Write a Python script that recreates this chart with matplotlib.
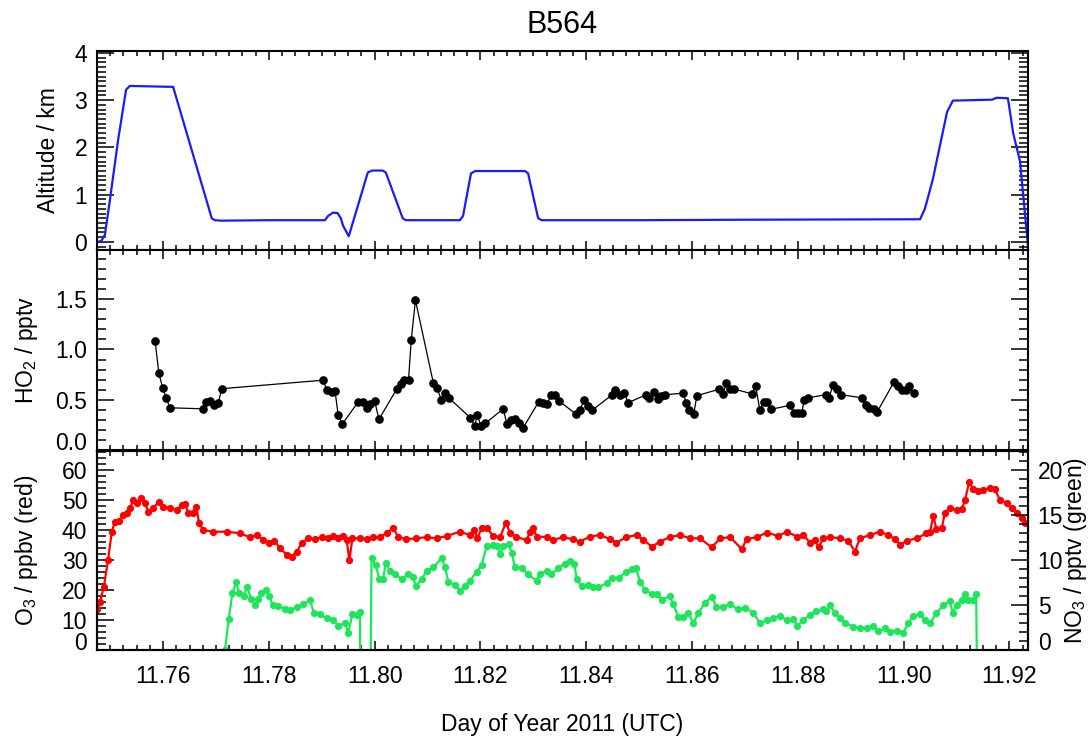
"""Flight B564 time series: altitude, HO2, O3 and NO3."""

import matplotlib
matplotlib.use("Agg")
import matplotlib.pyplot as plt
from matplotlib.ticker import MultipleLocator, FixedLocator

plt.rcParams["font.family"] = ["Liberation Sans", "DejaVu Sans"]
plt.rcParams["mathtext.default"] = "regular"

# ---- data ----
alt_time = [11.7475, 11.7483, 11.7490, 11.7500, 11.7515, 11.7530, 11.7537, 11.7580,
            11.7619, 11.7692, 11.7698, 11.7710, 11.7800, 11.7906, 11.7912, 11.7921,
            11.7930, 11.7936, 11.7940, 11.7951, 11.7987, 11.7995, 11.8015, 11.8021,
            11.8053, 11.8059, 11.8161, 11.8167, 11.8182, 11.8190, 11.8284, 11.8290,
            11.8309, 11.8316, 11.8500, 11.8700, 11.9031, 11.9040, 11.9055, 11.9082,
            11.9093, 11.9167, 11.9176, 11.9197, 11.9207, 11.9220, 11.9235]
alt_km = [0.00, 0.02, 0.15, 0.93, 2.16, 3.22, 3.30, 3.29,
          3.28, 0.50, 0.46, 0.45, 0.46, 0.46, 0.55, 0.62,
          0.61, 0.50, 0.35, 0.12, 1.47, 1.51, 1.51, 1.47,
          0.50, 0.46, 0.46, 0.55, 1.45, 1.50, 1.50, 1.45,
          0.50, 0.46, 0.46, 0.47, 0.48, 0.70, 1.32, 2.75,
          2.99, 3.01, 3.05, 3.04, 2.30, 1.70, -0.10]

ho2_time = [11.7585, 11.7592, 11.7599, 11.7606, 11.7613, 11.7676, 11.7682, 11.7689,
            11.7696, 11.7704, 11.7711, 11.7903, 11.7909, 11.7919, 11.7925, 11.7931,
            11.7939, 11.7969, 11.7978, 11.7986, 11.7992, 11.8000, 11.8008, 11.8042,
            11.8049, 11.8056, 11.8064, 11.8069, 11.8077, 11.8111, 11.8118, 11.8126,
            11.8133, 11.8140, 11.8181, 11.8189, 11.8194, 11.8201, 11.8209, 11.8243,
            11.8250, 11.8258, 11.8265, 11.8272, 11.8280, 11.8310, 11.8319, 11.8326,
            11.8333, 11.8341, 11.8348, 11.8381, 11.8388, 11.8396, 11.8403, 11.8411,
            11.8449, 11.8455, 11.8464, 11.8472, 11.8479, 11.8513, 11.8519, 11.8528,
            11.8535, 11.8541, 11.8548, 11.8583, 11.8589, 11.8595, 11.8603, 11.8609,
            11.8651, 11.8658, 11.8665, 11.8671, 11.8680, 11.8713, 11.8720, 11.8728,
            11.8736, 11.8742, 11.8749, 11.8785, 11.8792, 11.8800, 11.8807, 11.8812,
            11.8819, 11.8853, 11.8859, 11.8866, 11.8874, 11.8881, 11.8921, 11.8928,
            11.8935, 11.8943, 11.8950, 11.8982, 11.8990, 11.8997, 11.9004, 11.9010,
            11.9019]
ho2_pptv = [1.08, 0.765, 0.62, 0.515, 0.42, 0.41, 0.48, 0.49,
            0.45, 0.465, 0.61, 0.695, 0.60, 0.58, 0.59, 0.345,
            0.26, 0.48, 0.48, 0.42, 0.455, 0.485, 0.305, 0.61,
            0.66, 0.70, 0.70, 1.09, 1.49, 0.665, 0.615, 0.50,
            0.57, 0.52, 0.32, 0.24, 0.345, 0.24, 0.265, 0.41,
            0.255, 0.30, 0.305, 0.265, 0.215, 0.48, 0.47, 0.455,
            0.55, 0.55, 0.49, 0.355, 0.40, 0.50, 0.44, 0.395,
            0.55, 0.595, 0.55, 0.565, 0.47, 0.55, 0.515, 0.58,
            0.505, 0.54, 0.55, 0.565, 0.47, 0.40, 0.355, 0.54,
            0.605, 0.555, 0.67, 0.605, 0.605, 0.56, 0.64, 0.40,
            0.48, 0.48, 0.405, 0.445, 0.37, 0.37, 0.365, 0.50,
            0.52, 0.55, 0.515, 0.65, 0.61, 0.55, 0.52, 0.445,
            0.42, 0.405, 0.38, 0.68, 0.64, 0.595, 0.595, 0.64,
            0.565]

o3_time = [11.7475, 11.7481, 11.7488, 11.7496, 11.7503, 11.7509, 11.7517, 11.7525,
           11.7531, 11.7537, 11.7544, 11.7551, 11.7559, 11.7566, 11.7572, 11.7580,
           11.7593, 11.7600, 11.7613, 11.7626, 11.7635, 11.7641, 11.7648, 11.7656,
           11.7663, 11.7668, 11.7676, 11.7695, 11.7720, 11.7745, 11.7764, 11.7777,
           11.7789, 11.7801, 11.7810, 11.7821, 11.7834, 11.7843, 11.7853, 11.7862,
           11.7874, 11.7887, 11.7900, 11.7912, 11.7922, 11.7931, 11.7941, 11.7947,
           11.7952, 11.7958, 11.7972, 11.7985, 11.7997,
           11.8010, 11.8023, 11.8035, 11.8045, 11.8060, 11.8079, 11.8098, 11.8117,
           11.8136, 11.8161, 11.8180, 11.8188, 11.8194, 11.8202, 11.8212, 11.8224,
           11.8237, 11.8248, 11.8256, 11.8268, 11.8287, 11.8294, 11.8300, 11.8306,
           11.8325, 11.8338, 11.8356, 11.8375, 11.8388, 11.8407, 11.8426, 11.8445,
           11.8457, 11.8476, 11.8495, 11.8508, 11.8524, 11.8539, 11.8558, 11.8577,
           11.8596, 11.8615, 11.8637, 11.8653, 11.8672, 11.8694, 11.8703, 11.8722,
           11.8741, 11.8763,
           11.8779, 11.8798, 11.8810, 11.8823, 11.8832, 11.8839, 11.8848, 11.8861,
           11.8880, 11.8895, 11.8908, 11.8917, 11.8936, 11.8955, 11.8971, 11.8984,
           11.8993, 11.9006, 11.9025, 11.9043, 11.9050, 11.9056, 11.9062, 11.9072,
           11.9078, 11.9087, 11.9100, 11.9110, 11.9116, 11.9124, 11.9131, 11.9141,
           11.9150, 11.9163, 11.9172, 11.9182, 11.9195, 11.9204, 11.9214, 11.9223,
           11.9229]
o3_ppbv = [13.6, 16.1, 21.1, 30.0, 39.4, 42.8, 43.1, 45.0,
           45.6, 47.2, 50.0, 49.1, 50.8, 48.9, 46.1, 47.2,
           49.4, 47.8, 47.2, 46.7, 48.3, 48.7, 45.6, 45.8,
           47.8, 42.2, 40.0, 39.4, 39.4, 38.9, 37.6, 38.3,
           36.7, 35.6, 36.4, 33.9, 31.7, 31.1, 32.8, 35.6,
           37.2, 36.9, 37.6, 37.2, 38.0, 37.2, 38.0, 36.7,
           30.0, 37.2, 37.2, 36.9, 37.6,
           37.6, 39.1, 40.6, 37.6, 36.9, 37.2, 37.6, 37.2,
           38.0, 39.4, 38.3, 40.0, 37.2, 40.6, 40.6, 38.0,
           37.6, 42.4, 39.1, 37.6, 36.7, 39.4, 40.6, 37.8,
           37.6, 36.7, 37.6, 36.9, 36.1, 37.8, 38.3, 36.9,
           35.8, 37.6, 38.3, 36.7, 34.4, 36.1, 37.6, 38.3,
           37.2, 37.2, 34.2, 37.2, 37.6, 33.6, 36.9, 37.6,
           39.1, 38.0,
           39.4, 37.8, 38.3, 35.8, 36.7, 34.2, 37.2, 37.6,
           37.2, 36.4, 32.8, 37.2, 38.3, 39.4, 38.3, 36.9,
           35.0, 36.4, 37.2, 38.9, 39.4, 44.7, 40.2, 40.6,
           45.8, 47.2, 46.7, 46.9, 50.0, 56.1, 53.6, 53.1,
           53.3, 53.9, 53.6, 50.0, 48.9, 47.2, 45.6, 43.9,
           42.2]

# values below zero are the instrument dropouts that run off the axis
no3_time = [11.7717, 11.7724, 11.7731, 11.7738, 11.7744, 11.7752, 11.7759, 11.7766,
            11.7774, 11.7780, 11.7786, 11.7794, 11.7801, 11.7807, 11.7818, 11.7830,
            11.7840, 11.7853, 11.7865, 11.7878, 11.7885, 11.7897, 11.7909, 11.7922,
            11.7931, 11.7944, 11.7950, 11.7958, 11.7966, 11.7972, 11.7973, 11.7992,
            11.7994, 11.8002, 11.8009, 11.8016, 11.8021, 11.8029, 11.8038, 11.8051,
            11.8063, 11.8072, 11.8078, 11.8089, 11.8098, 11.8111, 11.8127, 11.8133,
            11.8139, 11.8152, 11.8161, 11.8171, 11.8180, 11.8193, 11.8202, 11.8212,
            11.8224, 11.8231, 11.8237, 11.8243, 11.8253, 11.8259, 11.8265, 11.8278,
            11.8290, 11.8306, 11.8312, 11.8325, 11.8334, 11.8347, 11.8359, 11.8369,
            11.8377, 11.8382, 11.8391, 11.8404, 11.8413, 11.8423, 11.8439, 11.8448,
            11.8461, 11.8476, 11.8486, 11.8494, 11.8502, 11.8511, 11.8524, 11.8533,
            11.8543, 11.8558, 11.8564, 11.8574, 11.8583, 11.8593, 11.8602, 11.8612,
            11.8624, 11.8637, 11.8646, 11.8659, 11.8672, 11.8687, 11.8700, 11.8716,
            11.8728, 11.8741, 11.8753, 11.8766, 11.8779, 11.8791, 11.8799, 11.8810,
            11.8823, 11.8835, 11.8848, 11.8854, 11.8861, 11.8870, 11.8880, 11.8889,
            11.8905, 11.8917, 11.8930, 11.8942, 11.8952, 11.8964, 11.8974, 11.8987,
            11.8999, 11.9009, 11.9018, 11.9031, 11.9040, 11.9050, 11.9062, 11.9075,
            11.9087, 11.9093, 11.9100, 11.9110, 11.9116, 11.9122, 11.9131, 11.9137,
            11.9139]
no3_pptv = [0.0, 3.4, 6.3, 7.5, 6.3, 6.0, 7.0, 5.7,
            5.0, 5.7, 6.3, 6.7, 6.0, 5.0, 4.9, 4.6,
            4.4, 4.8, 5.1, 5.5, 4.1, 4.0, 3.5, 3.3,
            2.7, 3.0, 1.9, 4.0, 3.9, 4.2, -5.0, -5.0,
            10.2, 9.4, 7.9, 7.9, 9.7, 8.8, 8.4, 7.9,
            8.4, 8.1, 7.1, 7.9, 8.8, 9.2, 10.2, 9.2,
            7.6, 7.2, 6.6, 7.1, 7.7, 8.7, 9.4, 11.6,
            11.7, 11.5, 10.7, 11.5, 11.8, 10.8, 9.2, 9.1,
            8.4, 7.7, 8.4, 8.8, 8.4, 9.1, 9.6, 9.9,
            9.6, 7.9, 7.1, 7.2, 7.0, 7.0, 7.4, 8.0,
            8.0, 8.7, 9.0, 9.1, 7.5, 6.7, 6.2, 6.2,
            5.6, 6.0, 5.1, 3.7, 3.7, 4.1, 3.0, 4.1,
            5.2, 5.9, 4.8, 4.8, 5.1, 4.5, 4.7, 4.1,
            3.0, 3.3, 3.5, 3.8, 3.3, 3.4, 2.7, 3.3,
            3.9, 4.3, 4.5, 4.3, 5.0, 4.1, 3.5, 3.0,
            2.6, 2.4, 2.4, 2.7, 2.1, 2.4, 2.0, 2.1,
            1.9, 3.0, 3.8, 4.0, 3.3, 3.0, 4.1, 5.0,
            5.4, 4.1, 5.0, 5.6, 6.2, 5.6, 5.6, 6.2,
            -5.0]

XMIN, XMAX = 11.7475, 11.9235
TICK_FS = 16.5
LABEL_FS = 16.5


def _style_axis(ax, right=True):
    """IGOR-like inward ticks on every side."""
    for sp in ax.spines.values():
        sp.set_linewidth(1.5)
    ax.tick_params(which="both", direction="in", top=True, right=right,
                   labelsize=TICK_FS, width=1.1)
    ax.tick_params(axis="y", which="major", length=12.5, pad=7)
    ax.tick_params(axis="y", which="minor", length=6.5)
    ax.tick_params(axis="x", which="major", length=6.5, pad=11)
    ax.tick_params(axis="x", which="minor", length=3.6)
    ax.set_xlim(XMIN, XMAX)
    ax.xaxis.set_major_locator(MultipleLocator(0.02))
    ax.xaxis.set_minor_locator(MultipleLocator(0.0025))


fig = plt.figure(figsize=(10.92, 7.42), dpi=100)
ax1 = fig.add_axes([0.0888, 0.6631, 0.8526, 0.2682])
ax2 = fig.add_axes([0.0888, 0.3935, 0.8526, 0.2696])
ax3 = fig.add_axes([0.0888, 0.1240, 0.8526, 0.2682])

# altitude
_style_axis(ax1)
ax1.plot(alt_time, alt_km, color="#1a1aff", linewidth=1.6)
ax1.set_ylim(-0.17, 4.04)
ax1.yaxis.set_major_locator(FixedLocator([0, 1, 2, 3, 4]))
ax1.yaxis.set_minor_locator(MultipleLocator(0.1))
ax1.tick_params(labelbottom=False)
ax1.set_ylabel("Altitude / km", fontsize=LABEL_FS)
ax1.yaxis.set_label_coords(-0.040, 0.5)
ax1.set_title("B564", fontsize=22, pad=13)

# HO2
_style_axis(ax2)
ax2.plot(ho2_time, ho2_pptv, color="black", linewidth=0.9,
         marker="o", markersize=5.2)
ax2.set_ylim(0, 1.99)
ax2.yaxis.set_major_locator(FixedLocator([0.0, 0.5, 1.0, 1.5]))
ax2.yaxis.set_minor_locator(MultipleLocator(0.1))
ax2.yaxis.set_major_formatter(plt.FormatStrFormatter("%.1f"))
ax2.tick_params(labelbottom=False)
ax2.set_ylabel("HO$_2$ / pptv", fontsize=LABEL_FS)
ax2.yaxis.set_label_coords(-0.061, 0.5)

# O3 and NO3
_style_axis(ax3, right=False)
ax3.plot(o3_time, o3_ppbv, color="#ff0000", linewidth=1.6,
         marker="o", markersize=4.2)
ax3.set_ylim(0, 66.3)
ax3.yaxis.set_major_locator(FixedLocator([0, 10, 20, 30, 40, 50, 60]))
ax3.yaxis.set_minor_locator(MultipleLocator(2))
ax3.xaxis.set_major_formatter(plt.FormatStrFormatter("%.2f"))
ax3.set_ylabel("O$_3$ / ppbv (red)", fontsize=LABEL_FS)
ax3.yaxis.set_label_coords(-0.061, 0.5)
ax3.set_xlabel("Day of Year 2011 (UTC)", fontsize=LABEL_FS)
ax3.xaxis.set_label_coords(0.5, -0.317)

ax3r = ax3.twinx()
for sp in ax3r.spines.values():
    sp.set_linewidth(1.5)
ax3r.plot(no3_time, no3_pptv, color="#1ee65a", linewidth=1.6,
          marker="o", markersize=4.2)
ax3r.set_xlim(XMIN, XMAX)
ax3r.set_ylim(0, 22.1)
ax3r.yaxis.set_major_locator(FixedLocator([0, 5, 10, 15, 20]))
ax3r.yaxis.set_minor_locator(MultipleLocator(1))
ax3r.tick_params(which="both", direction="in", left=False, right=True,
                 labelsize=TICK_FS, width=1.1, pad=7)
ax3r.tick_params(axis="y", which="major", length=12.5)
ax3r.tick_params(axis="y", which="minor", length=6.5)
ax3r.set_ylabel("NO$_3$ / pptv (green)", fontsize=LABEL_FS)
ax3r.yaxis.set_label_coords(1.0365, 0.5)

# labels sitting on the lower edge are nudged up, as in the original
for ax in (ax2, ax3, ax3r):
    t = ax.yaxis.get_major_ticks()[0]
    t.label1.set_verticalalignment("baseline")
    t.label2.set_verticalalignment("baseline")

fig.savefig("out.png", dpi=100)
